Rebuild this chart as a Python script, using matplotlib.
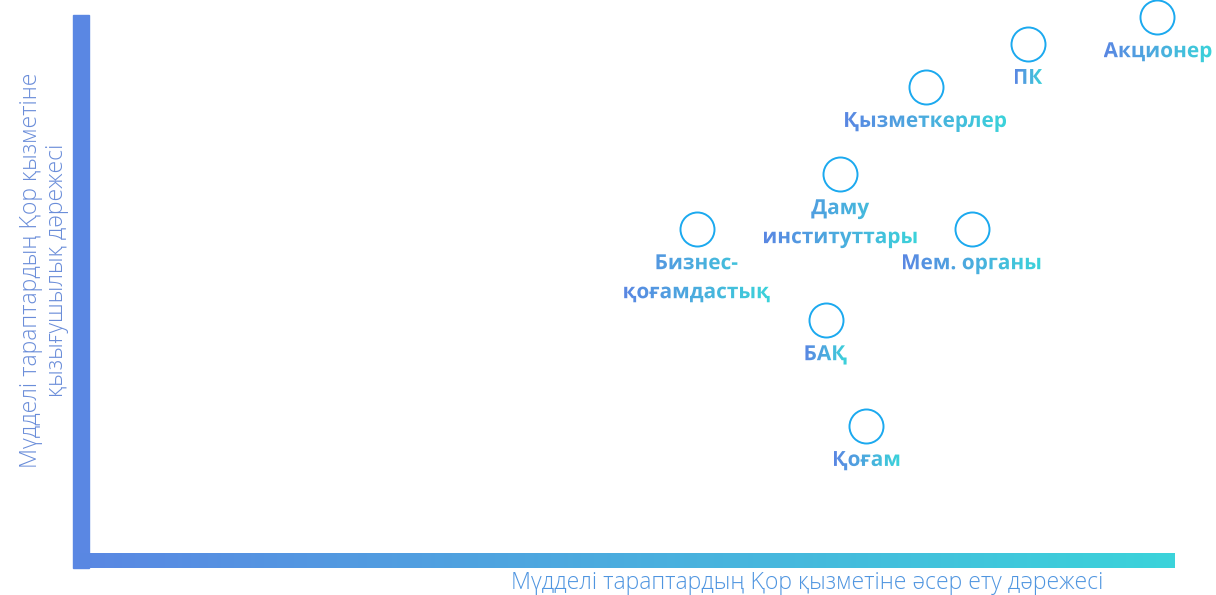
import numpy as np
import matplotlib
matplotlib.use('Agg')
import matplotlib.pyplot as plt
import matplotlib.transforms as mtransforms
from matplotlib.colors import LinearSegmentedColormap
from matplotlib.textpath import TextPath
from matplotlib.font_manager import FontProperties

# stakeholders: influence (x) vs interest (y), 0-10 scale
names = ['Акционер', 'ПК', 'Қызметкерлер', 'Даму\nинституттары', 'Бизнес-\nқоғамдастық',
         'Мем. органы', 'БАҚ', 'Қоғам']
influence = [9.84, 8.66, 7.72, 6.94, 5.63, 8.14, 6.81, 7.18]
interest = [9.96, 9.47, 8.68, 7.08, 6.07, 6.07, 4.40, 2.46]

x_title = 'Мүдделі тараптардың Қор қызметіне әсер ету дәрежесі'
y_title = 'Мүдделі тараптардың Қор қызметіне\nқызығушылық дәрежесі'

BLUE = '#5a87e3'
CYAN = '#3bd3da'
cmap = LinearSegmentedColormap.from_list('bc', [BLUE, CYAN])
grad = np.linspace(0, 1, 256).reshape(1, -1)

fig = plt.figure(figsize=(12.16, 5.95), dpi=100)
ax = fig.add_axes([81 / 1216, 35 / 595, 1094 / 1216, 545 / 595])
ax.set_xlim(0, 10)
ax.set_ylim(0, 10)
ax.axis('off')

# axis bars
ax.add_patch(plt.Rectangle((-0.073, -0.147), 0.146, 10.147, color=BLUE, clip_on=False, zorder=1))
ax.imshow(grad, cmap=cmap, aspect='auto', extent=[-0.073, 10, -0.147, 0.128],
          clip_on=False, zorder=1, interpolation='bilinear')

# circles
ax.scatter(influence, interest, s=600, facecolors='white', edgecolors='#1ba9ef',
           linewidths=1.4, clip_on=False, zorder=3)

# gradient labels
fsize = 15
fp = FontProperties(family='Open Sans', weight='bold')
px = fig.dpi / 72.0


def grad_label(x, y, text):
    lines = text.split('\n')
    paths = [TextPath((0, 0), ln, size=fsize, prop=fp) for ln in lines]
    exts = [p.get_extents() for p in paths]
    wmax = max(e.width for e in exts)
    base_t = mtransforms.Affine2D().scale(px) + mtransforms.ScaledTranslation(x, y, ax.transData)
    for i, (p, e) in enumerate(zip(paths, exts)):
        base = -(40 + i * 29) / px
        full = mtransforms.Affine2D().translate(-e.x0 - e.width / 2, base) + base_t
        im = ax.imshow(grad, cmap=cmap, aspect='auto',
                       extent=[-wmax / 2, wmax / 2, base - 8, base + 20],
                       transform=base_t, zorder=4, interpolation='bilinear')
        im.set_clip_box(fig.bbox)
        im.set_clip_path(p, transform=full)


for n, xv, yv in zip(names, influence, interest):
    grad_label(xv, yv, n)

# axis titles
fig.text(807 / 1216, 12 / 595, x_title, ha='center', va='center', fontsize=16.6,
         family='Open Sans', weight='light', color='#4f95e0')
fig.text(44 / 1216, 325 / 595, y_title, ha='center', va='center', rotation=90,
         multialignment='center', fontsize=16.6, family='Open Sans', weight='light',
         color='#6a8dd9', linespacing=1.15)

fig.savefig('out.png', dpi=100)
